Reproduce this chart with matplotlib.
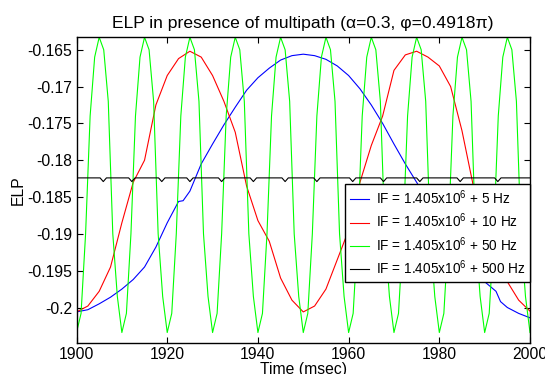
import numpy as np
import matplotlib
matplotlib.use('Agg')
import matplotlib.pyplot as plt
from matplotlib.ticker import FuncFormatter

plt.rcParams['font.family'] = ['Liberation Sans', 'DejaVu Sans']
plt.rcParams['mathtext.default'] = 'regular'

# legend labels
labels = ['IF = 1.405x10$^{6}$ + 5 Hz', 'IF = 1.405x10$^{6}$ + 10 Hz',
          'IF = 1.405x10$^{6}$ + 50 Hz', 'IF = 1.405x10$^{6}$ + 500 Hz']

# +5 Hz (blue)
blue_t = [1900, 1902.5, 1905, 1907.5, 1910, 1912.5, 1915, 1917.5, 1920, 1922.5, 1923.5,
          1925, 1927.5, 1930, 1932.5, 1935, 1937.5, 1940, 1942.5, 1945, 1947.5, 1950,
          1952.5, 1955, 1957.5, 1960, 1962.5, 1965, 1967.5, 1970, 1972.5, 1975, 1977.5,
          1980, 1982.5, 1985, 1987.5, 1990, 1992.5, 1993.5, 1995, 1997.5, 2000]
blue_v = [-0.2006, -0.2003, -0.1995, -0.1986, -0.1975, -0.1962, -0.1945, -0.1918, -0.1885, -0.1856, -0.1855,
          -0.1842, -0.1805, -0.1778, -0.1752, -0.1728, -0.1705, -0.1688, -0.1675, -0.1664, -0.1658, -0.1656,
          -0.1658, -0.1663, -0.1672, -0.1685, -0.1703, -0.1725, -0.1750, -0.1778, -0.1805, -0.1830, -0.1855,
          -0.1880, -0.1905, -0.1928, -0.1950, -0.1965, -0.1978, -0.1992, -0.2000, -0.2008, -0.2014]

# +10 Hz (red)
red_t = [1900, 1902.5, 1905, 1907.5, 1910, 1912.5, 1915, 1917.5, 1920, 1922.5, 1925,
         1927.5, 1930, 1932.5, 1935, 1937.5, 1940, 1942.5, 1945, 1947.5, 1950,
         1952.5, 1955, 1957.5, 1960, 1962.5, 1965, 1967.5, 1970, 1972.5, 1975,
         1977.5, 1980, 1982.5, 1985, 1987.5, 1990, 1992.5, 1995, 1997.5, 2000]
red_v = [-0.2006, -0.1998, -0.1978, -0.1945, -0.1885, -0.1830, -0.1800, -0.1725, -0.1685, -0.1662, -0.1652,
         -0.1660, -0.1685, -0.1720, -0.1762, -0.1835, -0.1882, -0.1910, -0.1960, -0.1990, -0.2006,
         -0.1998, -0.1975, -0.1935, -0.1895, -0.1830, -0.1780, -0.1740, -0.1678, -0.1657, -0.1652,
         -0.1660, -0.1672, -0.1700, -0.1760, -0.1835, -0.1885, -0.1925, -0.1965, -0.1990, -0.2005]

# +50 Hz (green), 1 ms samples
green_t = list(range(1900, 2001))
green_v = [-0.2034, -0.2008, -0.1900, -0.1740, -0.1660, -0.1633, -0.1650, -0.1720, -0.1900, -0.1985,
           -0.2034, -0.2008, -0.1900, -0.1740, -0.1660, -0.1633, -0.1650, -0.1720, -0.1900, -0.1985,
           -0.2034, -0.2008, -0.1900, -0.1740, -0.1660, -0.1633, -0.1650, -0.1720, -0.1900, -0.1985,
           -0.2034, -0.2008, -0.1900, -0.1740, -0.1660, -0.1633, -0.1650, -0.1720, -0.1900, -0.1985,
           -0.2034, -0.2008, -0.1900, -0.1740, -0.1660, -0.1633, -0.1650, -0.1720, -0.1900, -0.1985,
           -0.2034, -0.2008, -0.1900, -0.1740, -0.1660, -0.1633, -0.1650, -0.1720, -0.1900, -0.1985,
           -0.2034, -0.2008, -0.1900, -0.1740, -0.1660, -0.1633, -0.1650, -0.1720, -0.1900, -0.1985,
           -0.2034, -0.2008, -0.1900, -0.1740, -0.1660, -0.1633, -0.1650, -0.1720, -0.1900, -0.1985,
           -0.2034, -0.2008, -0.1900, -0.1740, -0.1660, -0.1633, -0.1650, -0.1720, -0.1900, -0.1985,
           -0.2034, -0.2008, -0.1900, -0.1740, -0.1660, -0.1633, -0.1650, -0.1720, -0.1900, -0.1985,
           -0.2034]

# +500 Hz (black), flat with small dips
black_t = [1900,
           1905.2, 1905.9, 1906.6, 1911.5, 1912.2, 1912.9, 1918.1, 1918.8, 1919.5,
           1924.3, 1925.0, 1925.7, 1931.3, 1932.0, 1932.7, 1938.3, 1939.0, 1939.7,
           1945.3, 1946.0, 1946.7, 1952.3, 1953.0, 1953.7, 1960.2, 1960.9, 1961.6,
           1967.0, 1967.7, 1968.4, 1975.0, 1975.7, 1976.4, 1983.9, 1984.6, 1985.3,
           1992.2, 1992.9, 1993.6,
           2000]
black_v = [-0.1824,
           -0.1824, -0.1829, -0.1824, -0.1824, -0.1829, -0.1824, -0.1824, -0.1829, -0.1824,
           -0.1824, -0.1829, -0.1824, -0.1824, -0.1829, -0.1824, -0.1824, -0.1829, -0.1824,
           -0.1824, -0.1829, -0.1824, -0.1824, -0.1829, -0.1824, -0.1824, -0.1829, -0.1824,
           -0.1824, -0.1829, -0.1824, -0.1824, -0.1829, -0.1824, -0.1824, -0.1829, -0.1824,
           -0.1824, -0.1829, -0.1824,
           -0.1824]

yticks = [-0.2, -0.195, -0.19, -0.185, -0.18, -0.175, -0.17, -0.165]
xticks = [1900, 1920, 1940, 1960, 1980, 2000]

fig = plt.figure(figsize=(5.45, 3.74), dpi=100)
ax = fig.add_axes([0.1404, 0.0821, 0.8321, 0.8203])

ax.plot(blue_t, blue_v, color=(0, 0, 1), lw=0.8, label=labels[0])
ax.plot(red_t, red_v, color=(1, 0, 0), lw=0.8, label=labels[1])
ax.plot(green_t, green_v, color=(0, 1, 0), lw=0.8, label=labels[2])
ax.plot(black_t, black_v, color=(0, 0, 0), lw=0.8, label=labels[3])

ax.set_xlim(1900, 2000)
ax.set_ylim(-0.20486, -0.1632)
ax.set_xticks(xticks)
ax.set_yticks(yticks)
ax.yaxis.set_major_formatter(FuncFormatter(lambda v, p: '%g' % v))
ax.tick_params(direction='in', length=4, width=0.8, top=True, right=True, labelsize=11.3, pad=3)
for s in ax.spines.values():
    s.set_linewidth(1.0)

ax.set_title('ELP in presence of multipath (\u03b1=0.3, \u03c6=0.4918\u03c0)', fontsize=12.6, pad=6)
ax.set_xlabel('Time (msec)', fontsize=11.3, labelpad=0)
ax.set_ylabel('ELP', fontsize=11.3, labelpad=1)

leg = ax.legend(loc='lower right', bbox_to_anchor=(1.0, 0.2), borderaxespad=0, fontsize=9.8,
                fancybox=False, framealpha=1, edgecolor='k', handlelength=1.4,
                handletextpad=0.5, labelspacing=0.35, borderpad=0.35)
leg.get_frame().set_linewidth(1.0)

fig.savefig('out.png', dpi=100)
